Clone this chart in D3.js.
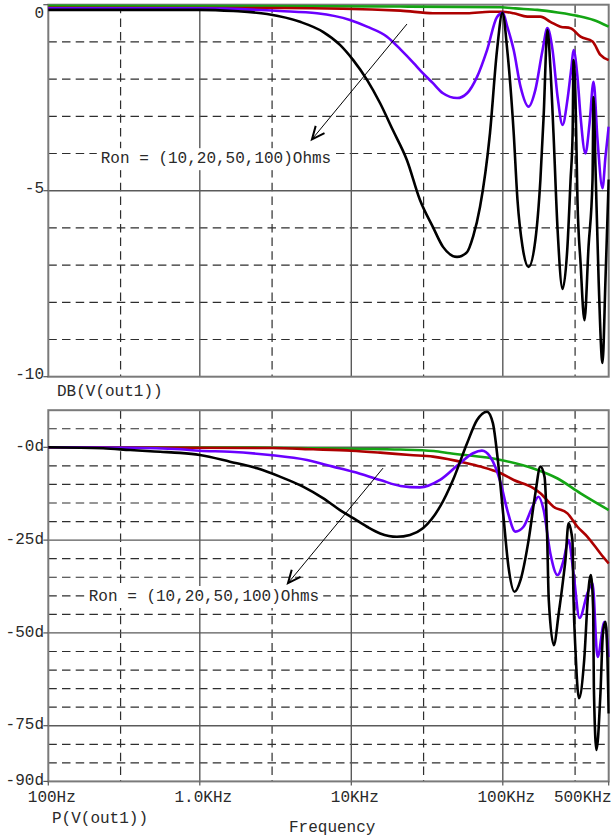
<!DOCTYPE html>
<html><head><meta charset="utf-8">
<script src="https://cdn.jsdelivr.net/npm/d3@7"></script>
<style>
html,body{margin:0;padding:0;background:#fff;}
svg{display:block;}
text{font-family:"Courier New","Liberation Mono",monospace;font-size:16px;fill:#2a2a2a;}
</style>
</head><body>
<svg id="chart" width="612" height="838"></svg>
<script>
// ---------- DATA ----------
const freqTicks = [100, 1000, 10000, 100000, 500000];
const freqLabels = ["100Hz", "1.0KHz", "10KHz", "100KHz", "500KHz"];
const magTicks = [0, -5, -10];
const magLabels = ["0", "-5", "-10"];
const phaseTicks = [0, -25, -50, -75, -90];
const phaseLabels = ["-0d", "-25d", "-50d", "-75d", "-90d"];
const ronLabel = "Ron = (10,20,50,100)Ohms";

// magnitude (dB)
const fMagGreen = [100, 21100, 97000, 121000, 169000, 230000, 311000, 397000, 500000];
const dbGreen = [-0.03, -0.05, -0.07, -0.1, -0.14, -0.21, -0.3, -0.41, -0.59];

const fMagRed = [100, 3380, 21100, 34600, 58100, 82300, 100000, 118000, 145000, 177000, 206000, 240000, 280000, 326000, 391000, 441000, 500000];
const dbRed = [-0.08, -0.09, -0.16, -0.23, -0.23, -0.19, -0.19, -0.23, -0.32, -0.32, -0.46, -0.59, -0.63, -0.86, -0.99, -1.35, -1.49];

const fMagPurple = [100, 1000, 3380, 5940, 9800, 12700, 17200, 21100, 25800, 28400, 34600, 40300, 49900, 58100, 67600, 78700, 91600, 100000, 107000, 118000, 131000, 148000, 164000, 183000, 197000, 213000, 230000, 248000, 267000, 284000, 293000, 311000, 326000, 351000, 374000, 397000, 422000, 455000, 476000, 500000];
const dbPurple = [-0.1, -0.1, -0.17, -0.23, -0.41, -0.59, -0.86, -1.2, -1.57, -1.76, -2.11, -2.38, -2.51, -2.38, -1.94, -1.22, -0.33, -0.22, -0.59, -1.22, -2.21, -2.74, -2.29, -1.22, -0.63, -1.22, -2.48, -3.23, -2.56, -1.67, -1.22, -1.94, -3.01, -4.0, -3.18, -2.07, -3.64, -4.93, -4.09, -3.28];

const fMagBlack = [100, 1000, 1660, 2780, 4590, 6500, 8420, 10300, 12700, 15500, 18800, 23300, 28400, 34600, 40300, 49900, 58100, 63600, 70700, 82300, 91600, 99500, 107000, 118000, 125000, 135000, 148000, 164000, 177000, 186000, 197000, 206000, 216000, 230000, 248000, 267000, 280000, 289000, 293000, 302000, 311000, 326000, 346000, 368000, 391000, 397000, 409000, 429000, 455000, 476000, 500000];
const dbBlack = [-0.14, -0.14, -0.17, -0.25, -0.46, -0.73, -1.08, -1.49, -2.02, -2.65, -3.37, -4.18, -5.25, -5.98, -6.51, -6.78, -6.65, -6.24, -5.44, -3.45, -1.22, -0.22, -1.22, -3.45, -5.25, -6.51, -7.05, -6.33, -4.72, -3.0, -0.68, -1.67, -3.45, -6.06, -7.64, -6.51, -4.72, -3.45, -1.49, -2.56, -5.25, -6.94, -8.48, -6.51, -4.72, -2.48, -4.36, -7.4, -9.63, -7.4, -4.7];

// phase (degrees)
const fPhGreen = [100, 3000, 10000, 21100, 35000, 44800, 97000, 159000, 230000, 326000, 500000];
const degGreen = [0, -0.1, -0.4, -0.6, -1.0, -1.6, -3.4, -5.7, -8.4, -12.4, -16.9];

const fPhRed = [100, 3000, 5600, 10000, 15500, 24400, 34600, 58100, 71100, 97000, 118000, 159000, 177000, 216000, 267000, 311000, 362000, 441000, 500000];
const degRed = [0, -0.2, -0.54, -0.92, -1.44, -2.07, -2.5, -4.3, -5.2, -7.0, -8.8, -11, -12.4, -16, -17.8, -21.4, -24.1, -28.6, -31.3];

const fPhPurple = [100, 347, 741, 1000, 1580, 2900, 5100, 7570, 10300, 15500, 21100, 28400, 38500, 52100, 63600, 72800, 82300, 97000, 107000, 121000, 137000, 157000, 172000, 186000, 206000, 230000, 252000, 271500, 293000, 321000, 362000, 391000, 422000, 469000, 500000];
const degPurple = [0, -0.1, -0.54, -0.92, -1.2, -2.07, -3.42, -5.2, -6.6, -8.8, -10.4, -10.8, -8.8, -4.3, -1.6, -0.9, -2.5, -9.7, -16.9, -22.7, -21.4, -16, -13.3, -16.9, -28.6, -34.4, -30.4, -25, -34, -46, -39.3, -36.6, -56.5, -47, -56.5];

const fPhBlack = [100, 230, 347, 547, 741, 1000, 1580, 2390, 3380, 4800, 6500, 8420, 10300, 12700, 15500, 20000, 24400, 29700, 38500, 46900, 58100, 67600, 78700, 86000, 92700, 101000, 109000, 119500, 131000, 148000, 164000, 177000, 188500, 196000, 201000, 217000, 234000, 253000, 259000, 271500, 288000, 293000, 302000, 318000, 344500, 366000, 381000, 395000, 399000, 415000, 441000, 458000, 476000, 491000, 500000];
const degBlack = [0, -0.27, -0.73, -1.2, -1.5, -2.07, -3.86, -5.66, -7.9, -10.6, -13.7, -16.9, -19.1, -21.4, -23.2, -24.1, -23.6, -21.8, -16.0, -8.8, 1.1, 7.35, 9.6, 6.5, -3.4, -18.7, -32.2, -38.9, -35.7, -25.0, -12.4, -5.2, -7.9, -23.2, -41, -53.3, -44.7, -34, -30.4, -20.5, -25, -41, -55, -67.6, -57.3, -39.3, -34.4, -43.8, -64.5, -81.5, -66.3, -50.1, -47, -57.3, -71.7];

// annotations (data coordinates)
const magArrow = {from: [23300, -0.52], to: [5500, -3.62], text: [222, -4.26]};
const phArrow = {from: [16200, -5.6], to: [3820, -36.6], text: [185, -41.4]};

// ---------- LAYOUT ----------
const svg = d3.select("#chart");
const X0 = 48.3, X1 = 608.7;
const x = d3.scaleLog().domain([100, 500000]).range([X0, X1]);
const yMag = d3.scaleLinear().domain([-10, 0]).range([376.7, 4.7]);
const yPh = d3.scaleLinear().domain([-90, 10]).range([781.4, 410.2]);

const colors = {green: "#14a514", red: "#ad0000", purple: "#6a00ff", black: "#000000"};
const DASH = "8.5,5.2";
const gridDash = "#2e2e2e", gridSolid = "#5a5a5a", frameCol = "#7a7a7a";

function drawPanel(y, dashedY, solidY, clipId) {
  const [ylo, yhi] = y.domain();
  const g = svg.append("g");
  g.selectAll(null).data(dashedY).join("line")
    .attr("x1", X0).attr("x2", X1).attr("y1", d => y(d)).attr("y2", d => y(d))
    .attr("stroke", gridDash).attr("stroke-width", 1.2).attr("stroke-dasharray", DASH);
  g.selectAll(null).data([300, 3000, 30000, 300000]).join("line")
    .attr("x1", d => x(d)).attr("x2", d => x(d)).attr("y1", y(yhi)).attr("y2", y(ylo))
    .attr("stroke", gridDash).attr("stroke-width", 1.2).attr("stroke-dasharray", DASH);
  g.selectAll(null).data(solidY).join("line")
    .attr("x1", X0).attr("x2", X1).attr("y1", d => y(d)).attr("y2", d => y(d))
    .attr("stroke", gridSolid).attr("stroke-width", 1.4);
  g.selectAll(null).data([1000, 10000, 100000]).join("line")
    .attr("x1", d => x(d)).attr("x2", d => x(d)).attr("y1", y(yhi)).attr("y2", y(ylo))
    .attr("stroke", gridSolid).attr("stroke-width", 1.4);
  g.append("rect").attr("x", X0).attr("y", y(yhi)).attr("width", X1 - X0).attr("height", y(ylo) - y(yhi))
    .attr("fill", "none").attr("stroke", frameCol).attr("stroke-width", 2);
  svg.append("clipPath").attr("id", clipId).append("rect")
    .attr("x", X0 - 1).attr("y", y(yhi) - 2).attr("width", X1 - X0 + 2).attr("height", y(ylo) - y(yhi) + 4);
}

drawPanel(yMag, [-1, -2, -3, -4, -6, -7, -8, -9], [-5], "clipMag");
drawPanel(yPh, [5, -5, -10, -15, -20, -30, -35, -40, -45, -55, -60, -65, -70, -80, -85], [0, -25, -50, -75], "clipPh");

// annotation text boxes (white background, drawn under curves)
function labelBox(a, y) {
  const tx = x(a.text[0]), ty = y(a.text[1]);
  const t = svg.append("text").attr("x", tx).attr("y", ty).text(ronLabel);
  const bb = t.node().getBBox();
  svg.insert("rect", () => t.node())
    .attr("x", bb.x - 4).attr("y", bb.y - 2).attr("width", bb.width + 8).attr("height", bb.height + 4)
    .attr("fill", "#fff");
}
labelBox(magArrow, yMag);
labelBox(phArrow, yPh);

function series(fs, vs, y, color, clipId) {
  const pts = fs.map((f, i) => [f, vs[i]]);
  const line = d3.line().x(d => x(d[0])).y(d => y(d[1])).curve(d3.curveMonotoneX);
  svg.append("path").datum(pts).attr("d", line)
    .attr("fill", "none").attr("stroke", color).attr("stroke-width", 2.6)
    .attr("stroke-linejoin", "round").attr("clip-path", `url(#${clipId})`);
}

series(fMagGreen, dbGreen, yMag, colors.green, "clipMag");
series(fMagRed, dbRed, yMag, colors.red, "clipMag");
series(fMagPurple, dbPurple, yMag, colors.purple, "clipMag");
series(fMagBlack, dbBlack, yMag, colors.black, "clipMag");

series(fPhGreen, degGreen, yPh, colors.green, "clipPh");
series(fPhRed, degRed, yPh, colors.red, "clipPh");
series(fPhPurple, degPurple, yPh, colors.purple, "clipPh");
series(fPhBlack, degBlack, yPh, colors.black, "clipPh");

// y tick labels + ticks
function yLabels(y, ticks, labels, dy, topPad) {
  const top = y(y.domain()[1]);
  ticks.forEach((t, i) => {
    svg.append("line").attr("x1", X0 - 5).attr("x2", X0).attr("y1", y(t)).attr("y2", y(t))
      .attr("stroke", "#555").attr("stroke-width", 1.2);
    svg.append("text").attr("x", 44).attr("y", Math.max(y(t) + dy, top + topPad))
      .attr("text-anchor", "end").text(labels[i]);
  });
}
yLabels(yMag, magTicks, magLabels, 2.5, 13);
yLabels(yPh, phaseTicks, phaseLabels, 3.6, 0);

// x ticks + labels
freqTicks.forEach((f, i) => {
  svg.append("line").attr("x1", x(f)).attr("x2", x(f)).attr("y1", yPh(-90)).attr("y2", yPh(-90) + 4)
    .attr("stroke", "#555").attr("stroke-width", 1.2);
  const last = i === freqTicks.length - 1;
  svg.append("text").attr("x", last ? 611.5 : x(f) + 3.5).attr("y", 802)
    .attr("text-anchor", last ? "end" : "middle").text(freqLabels[i]);
});

svg.append("text").attr("x", 57).attr("y", 396).text("DB(V(out1))");
svg.append("text").attr("x", 52).attr("y", 823).text("P(V(out1))");
svg.append("text").attr("x", 289).attr("y", 832).text("Frequency");

// arrows
function arrow(a, y) {
  const [x1, y1] = [x(a.from[0]), y(a.from[1])];
  const [x2, y2] = [x(a.to[0]), y(a.to[1])];
  svg.append("line").attr("x1", x1).attr("y1", y1).attr("x2", x2).attr("y2", y2)
    .attr("stroke", "#000").attr("stroke-width", 1);
  const ang = Math.atan2(y1 - y2, x1 - x2);
  const L = 14, spread = 0.42;
  const p = d3.path();
  p.moveTo(x2 + L * Math.cos(ang - spread), y2 + L * Math.sin(ang - spread));
  p.lineTo(x2, y2);
  p.lineTo(x2 + L * Math.cos(ang + spread), y2 + L * Math.sin(ang + spread));
  svg.append("path").attr("d", p.toString()).attr("fill", "none")
    .attr("stroke", "#000").attr("stroke-width", 2);
}
arrow(magArrow, yMag);
arrow(phArrow, yPh);
</script>
</body></html>
